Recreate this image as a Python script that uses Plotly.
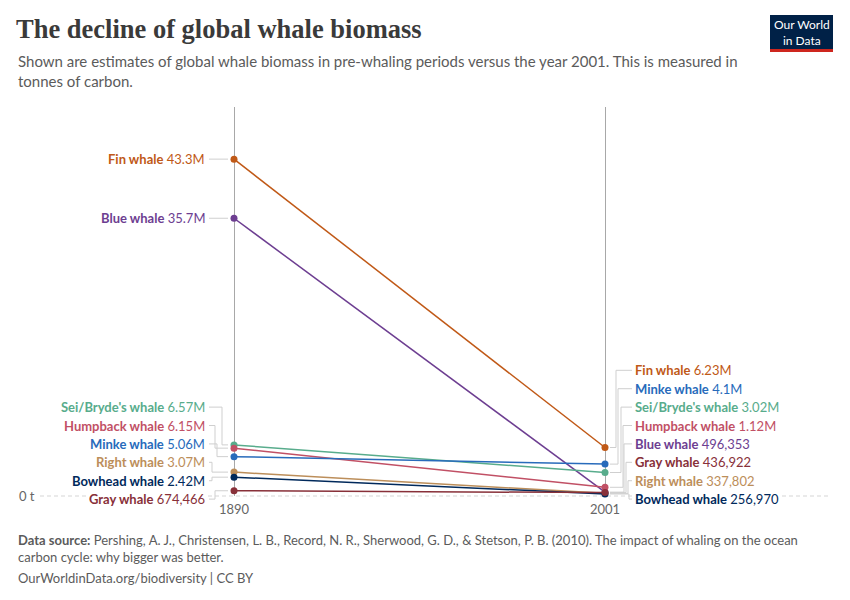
import plotly.graph_objects as go

# data: global whale biomass, tonnes of carbon
WHALES = [
    "Fin whale", "Blue whale", "Sei/Bryde's whale", "Humpback whale",
    "Minke whale", "Right whale", "Bowhead whale", "Gray whale",
]
YEARS = [1890, 2001]
BIOMASS_1890 = [43_300_000, 35_700_000, 6_570_000, 6_150_000, 5_060_000, 3_070_000, 2_420_000, 674_466]
BIOMASS_2001 = [6_230_000, 496_353, 3_020_000, 1_120_000, 4_100_000, 337_802, 256_970, 436_922]
COLORS = ["#C05917", "#6D3E91", "#58AC8C", "#C15065", "#286BBB", "#BC8E5A", "#00295B", "#883039"]

# page coordinates below; the html body adds an 8px margin around the figure
OFF = 8
W, H = 850, 600
PLOT_L, PLOT_R, PLOT_T, PLOT_B = 40, 830, 107, 496
ML, MR = PLOT_L - OFF, W - (PLOT_R - OFF)
MT, MB = PLOT_T - OFF, H - (PLOT_B - OFF)
PLOT_W = PLOT_R - PLOT_L
PLOT_H = PLOT_B - PLOT_T
Y_MAX = 50_000_000
PX_1890, PX_2001 = 234, 605
YEARS_PER_PX = (YEARS[1] - YEARS[0]) / (PX_2001 - PX_1890)
X_MIN = YEARS[0] - (PX_1890 - PLOT_L) * YEARS_PER_PX
X_MAX = YEARS[1] + (PLOT_R - PX_2001) * YEARS_PER_PX

FONT = "Lato, 'Noto Sans', sans-serif"
GREY = "#5b5b5b"
LEADER = "#cfcfcf"


def fmt(v):
    if v >= 1e6:
        return f"{v / 1e6:.3g}M"
    return f"{v:,.0f}"


def px_x(px):
    return (px - PLOT_L) / PLOT_W


def px_y(py):
    return (PLOT_B - py) / PLOT_H


def val_y(v):
    return v / Y_MAX


def spread(values, gap, floor):
    """Place labels near their values without overlapping."""
    order = sorted(range(len(values)), key=lambda i: -values[i])
    groups = [[i] for i in order]

    def place(g):
        centre = sum(values[i] for i in g) / len(g)
        top = centre + gap * (len(g) - 1) / 2
        if top - gap * (len(g) - 1) < floor:
            top = floor + gap * (len(g) - 1)
        return top

    changed = True
    while changed:
        changed = False
        for k in range(len(groups) - 1):
            a, b = groups[k], groups[k + 1]
            bottom_a = place(a) - gap * (len(a) - 1)
            if bottom_a - place(b) < gap:
                groups[k] = a + b
                del groups[k + 1]
                changed = True
                break
    pos = {}
    for g in groups:
        top = place(g)
        for j, i in enumerate(g):
            pos[i] = top - gap * j
    return pos, order


GAP = 18.4 / PLOT_H * Y_MAX
FLOOR = -0.4e6

fig = go.Figure()
for name, a, b, c in zip(WHALES, BIOMASS_1890, BIOMASS_2001, COLORS):
    fig.add_trace(go.Scatter(
        x=YEARS, y=[a, b], mode="lines+markers", name=name,
        line=dict(color=c, width=1.5), marker=dict(color=c, size=7),
        cliponaxis=False, showlegend=False,
    ))

annotations = []
shapes = []


def seg(x0, y0, x1, y1, color=LEADER, dash="solid"):
    shapes.append(dict(type="line", xref="paper", yref="paper", x0=x0, y0=y0, x1=x1, y1=y1,
                       line=dict(color=color, width=1, dash=dash), layer="below"))


# dashed zero baseline across the whole chart area
seg(0, 0, 1, 0, color="#d5d5d5", dash="4px,3px")

# left labels (1890)
left_pos, left_order = spread(BIOMASS_1890, GAP, FLOOR)
left_elbow = [-15, -15, -12, -19, -17, -22, -22, -19]
for rank, i in enumerate(left_order):
    ly, vy = val_y(left_pos[i]), val_y(BIOMASS_1890[i])
    annotations.append(dict(
        xref="paper", yref="paper", x=px_x(PX_1890 - 28), y=ly, xanchor="right", yanchor="middle",
        text=f"<b>{WHALES[i]}</b> {fmt(BIOMASS_1890[i])}", showarrow=False,
        font=dict(size=13, color=COLORS[i], family=FONT), bgcolor="white", borderpad=0,
    ))
    e = px_x(PX_1890 + left_elbow[rank])
    seg(px_x(PX_1890 - 25), ly, e, ly)
    seg(e, ly, e, vy)
    seg(e, vy, px_x(PX_1890 - 6), vy)

# right labels (2001)
right_pos, right_order = spread(BIOMASS_2001, GAP, FLOOR)
right_elbow = [11, 13, 16, 18, 19, 21, 23, 24]
for rank, i in enumerate(right_order):
    ly, vy = val_y(right_pos[i]), val_y(BIOMASS_2001[i])
    annotations.append(dict(
        xref="paper", yref="paper", x=px_x(PX_2001 + 29), y=ly, xanchor="left", yanchor="middle",
        text=f"<b>{WHALES[i]}</b> {fmt(BIOMASS_2001[i])}", showarrow=False,
        font=dict(size=13, color=COLORS[i], family=FONT), bgcolor="white", borderpad=0,
    ))
    e = px_x(PX_2001 + right_elbow[rank])
    seg(px_x(PX_2001 + 5), vy, e, vy)
    seg(e, vy, e, ly)
    seg(e, ly, px_x(PX_2001 + 27), ly)

# header and footer
annotations += [
    dict(xref="paper", yref="paper", x=px_x(16), y=px_y(50), xanchor="left", yanchor="top",
         text="Shown are estimates of global whale biomass in pre-whaling periods versus the year 2001. This is measured in<br>tonnes of carbon.",
         showarrow=False, align="left", font=dict(size=15, color=GREY, family=FONT)),
    dict(xref="paper", yref="paper", x=px_x(16), y=px_y(530), xanchor="left", yanchor="top",
         text="<b>Data source:</b> Pershing, A. J., Christensen, L. B., Record, N. R., Sherwood, G. D., & Stetson, P. B. (2010). The impact of whaling on the ocean<br>carbon cycle: why bigger was better.",
         showarrow=False, align="left", font=dict(size=13, color=GREY, family=FONT)),
    dict(xref="paper", yref="paper", x=px_x(16), y=px_y(568), xanchor="left", yanchor="top",
         text="OurWorldinData.org/biodiversity | CC BY",
         showarrow=False, align="left", font=dict(size=13, color=GREY, family=FONT)),
    dict(xref="paper", yref="paper", x=px_x(801.5), y=px_y(32), xanchor="center", yanchor="middle",
         text="Our World<br>in Data", showarrow=False,
         font=dict(size=12, color="white", family="'Liberation Sans Narrow', " + FONT)),
    dict(xref="paper", yref="paper", x=px_x(PLOT_L - 3), y=0, xanchor="right", yanchor="middle",
         text="0 t", showarrow=False, font=dict(size=13, color="#666", family=FONT)),
]
shapes += [
    dict(type="rect", xref="paper", yref="paper", x0=px_x(770), x1=px_x(833), y0=px_y(15), y1=px_y(52),
         fillcolor="#002147", line=dict(width=0)),
    dict(type="rect", xref="paper", yref="paper", x0=px_x(770), x1=px_x(833), y0=px_y(49), y1=px_y(52),
         fillcolor="#CE261E", line=dict(width=0)),
]

fig.update_layout(
    width=W, height=H,
    margin=dict(l=ML, r=MR, t=MT, b=MB),
    paper_bgcolor="white", plot_bgcolor="white",
    font=dict(family=FONT, color=GREY),
    title=dict(text="<b>The decline of global whale biomass</b>", x=(16 - OFF) / W, xanchor="left",
               y=1 - (19 - OFF) / H, yanchor="top", xref="container", yref="container",
               font=dict(family="'Liberation Serif', 'DejaVu Serif', serif", size=26.5, color="#3a3a3a")),
    xaxis=dict(range=[X_MIN, X_MAX], tickvals=YEARS, ticktext=[str(y) for y in YEARS],
               showgrid=True, gridcolor="#a8a8a8", gridwidth=1, zeroline=False,
               showline=False, ticks="", ticklabelstandoff=4,
               tickfont=dict(size=13, color="#666"), fixedrange=True),
    yaxis=dict(range=[0, Y_MAX], showticklabels=False, showgrid=False, zeroline=False,
               showline=False, ticks="", fixedrange=True),
    annotations=annotations,
    shapes=shapes,
    hovermode="closest",
)

fig.write_html("out.html")
